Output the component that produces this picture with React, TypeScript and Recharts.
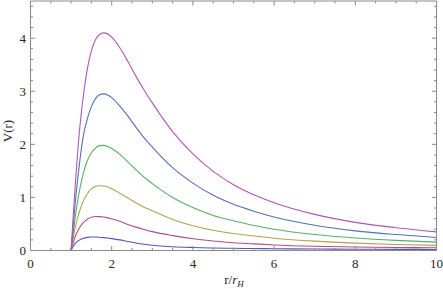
import React from "react";
import { LineChart, Line, XAxis, YAxis } from "recharts";

// r / r_H sample positions
const R = [1, 1.05, 1.1, 1.2, 1.3, 1.4, 1.5, 1.6, 1.7, 1.8, 1.9, 2.0, 2.2, 2.4, 2.6, 2.8, 3.0, 3.5, 4, 4.5, 5, 5.5, 6, 7, 8, 9, 10];

// V(r) curves (bottom to top)
const curve1 = [0, 0.075, 0.13, 0.195, 0.23, 0.248, 0.255, 0.254, 0.25, 0.243, 0.234, 0.224, 0.2, 0.168, 0.14, 0.117, 0.1, 0.072, 0.057, 0.047, 0.041, 0.037, 0.033, 0.028, 0.024, 0.022, 0.02];
const curve2 = [0, 0.14, 0.26, 0.42, 0.525, 0.59, 0.625, 0.64, 0.638, 0.63, 0.615, 0.595, 0.55, 0.49, 0.44, 0.395, 0.355, 0.28, 0.22, 0.18, 0.145, 0.125, 0.105, 0.08, 0.065, 0.057, 0.052];
const curve3 = [0, 0.22, 0.42, 0.72, 0.93, 1.07, 1.16, 1.205, 1.22, 1.215, 1.195, 1.165, 1.08, 0.99, 0.895, 0.815, 0.75, 0.585, 0.465, 0.38, 0.32, 0.272, 0.232, 0.176, 0.138, 0.113, 0.097];
const curve4 = [0, 0.32, 0.62, 1.1, 1.45, 1.69, 1.84, 1.93, 1.975, 1.98, 1.96, 1.92, 1.81, 1.67, 1.52, 1.38, 1.26, 1.0, 0.81, 0.66, 0.56, 0.47, 0.40, 0.30, 0.235, 0.19, 0.158];
const curve5 = [0, 0.45, 0.88, 1.6, 2.15, 2.48, 2.71, 2.86, 2.935, 2.95, 2.93, 2.88, 2.72, 2.53, 2.32, 2.12, 1.95, 1.56, 1.27, 1.04, 0.87, 0.74, 0.63, 0.475, 0.37, 0.30, 0.245];
const curve6 = [0, 0.62, 1.2, 2.2, 2.9, 3.42, 3.76, 3.97, 4.07, 4.1, 4.08, 4.02, 3.82, 3.56, 3.28, 3.02, 2.78, 2.24, 1.82, 1.49, 1.24, 1.05, 0.9, 0.68, 0.53, 0.43, 0.35];

const xTicks = [0, 0.5, 1, 1.5, 2, 2.5, 3, 3.5, 4, 4.5, 5, 5.5, 6, 6.5, 7, 7.5, 8, 8.5, 9, 9.5, 10];
const xMajor = [0, 2, 4, 6, 8, 10];
const yTicks = [0, 0.2, 0.4, 0.6, 0.8, 1, 1.2, 1.4, 1.6, 1.8, 2, 2.2, 2.4, 2.6, 2.8, 3, 3.2, 3.4, 3.6, 3.8, 4, 4.2, 4.4, 4.6];
const yMajor = [0, 1, 2, 3, 4];

const series = [
  { key: "c1", values: curve1, color: "#5555b4" },
  { key: "c2", values: curve2, color: "#b44a88" },
  { key: "c3", values: curve3, color: "#b4a14e" },
  { key: "c4", values: curve4, color: "#55b166" },
  { key: "c5", values: curve5, color: "#5470b8" },
  { key: "c6", values: curve6, color: "#b155b6" },
];

const data = R.map((r, i) => {
  const row: any = { r };
  series.forEach((s) => (row[s.key] = s.values[i]));
  return row;
});

const AX = "#8a8a8a";
const TXT = "#262626";
const FONT = "Liberation Serif, Tinos, DejaVu Serif, serif";
const MAJ = 4.5;
const MIN = 2.5;

const txtStyle: React.CSSProperties = { fontFamily: FONT, fontSize: 13 };

const BottomTick = (p: any) => {
  const v = p.payload.value;
  const major = xMajor.includes(v);
  return (
    <g>
      <line x1={p.x} x2={p.x} y1={p.y} y2={p.y - (major ? MAJ : MIN)} stroke={AX} strokeWidth={1} />
      {major && (
        <text x={p.x} y={p.y + 17.5} textAnchor="middle" style={txtStyle} fill={TXT}>
          {v}
        </text>
      )}
    </g>
  );
};

const TopTick = (p: any) => {
  const v = p.payload.value;
  const major = xMajor.includes(v);
  return <line x1={p.x} x2={p.x} y1={p.y} y2={p.y + (major ? MAJ : MIN)} stroke={AX} strokeWidth={1} />;
};

const LeftTick = (p: any) => {
  const v = p.payload.value;
  const major = yMajor.includes(v);
  return (
    <g>
      <line x1={p.x} x2={p.x + (major ? MAJ : MIN)} y1={p.y} y2={p.y} stroke={AX} strokeWidth={1} />
      {major && (
        <text x={p.x - 4.5} y={p.y + 4.5} textAnchor="end" style={txtStyle} fill={TXT}>
          {v}
        </text>
      )}
    </g>
  );
};

const RightTick = (p: any) => {
  const v = p.payload.value;
  const major = yMajor.includes(v);
  return <line x1={p.x} x2={p.x - (major ? MAJ : MIN)} y1={p.y} y2={p.y} stroke={AX} strokeWidth={1} />;
};

export default function App() {
  return (
    <div style={{ position: "absolute", left: 0, top: 0, width: 443, height: 289, background: "#fff" }}>
      <LineChart width={443} height={289} data={data} margin={{ top: 0, right: 5.5, bottom: 0.5, left: 0.5 }}>
        <XAxis
          xAxisId="b"
          dataKey="r"
          type="number"
          domain={[0, 10]}
          ticks={xTicks}
          interval={0}
          height={38}
          tickSize={0}
          tickMargin={0}
          tickLine={false}
          axisLine={{ stroke: AX }}
          tick={(p: any) => <BottomTick {...p} />}
          allowDataOverflow
        />
        <XAxis
          xAxisId="t"
          orientation="top"
          dataKey="r"
          type="number"
          domain={[0, 10]}
          ticks={xTicks}
          interval={0}
          height={1}
          tickSize={0}
          tickMargin={0}
          tickLine={false}
          axisLine={{ stroke: AX }}
          tick={(p: any) => <TopTick {...p} />}
          allowDataOverflow
        />
        <YAxis
          yAxisId="l"
          type="number"
          domain={[0, 4.7]}
          ticks={yTicks}
          interval={0}
          width={30}
          tickSize={0}
          tickMargin={0}
          tickLine={false}
          axisLine={{ stroke: AX }}
          tick={(p: any) => <LeftTick {...p} />}
          allowDataOverflow
        />
        <YAxis
          yAxisId="r"
          orientation="right"
          type="number"
          domain={[0, 4.7]}
          ticks={yTicks}
          interval={0}
          width={1}
          tickSize={0}
          tickMargin={0}
          tickLine={false}
          axisLine={{ stroke: AX }}
          tick={(p: any) => <RightTick {...p} />}
          allowDataOverflow
        />
        {series.map((s) => (
          <Line
            key={s.key}
            xAxisId="b"
            yAxisId="l"
            dataKey={s.key}
            type="monotone"
            stroke={s.color}
            strokeWidth={1.1}
            dot={false}
            activeDot={false}
            isAnimationActive={false}
          />
        ))}
      </LineChart>
      <svg width={443} height={289} style={{ position: "absolute", left: 0, top: 0, pointerEvents: "none" }}>
        <text x={12} y={131} textAnchor="middle" transform="rotate(-90, 12, 131)" style={txtStyle} fill={TXT}>
          V(r)
        </text>
        <text x={234} y={284} textAnchor="middle" style={txtStyle} fill={TXT}>
          r/<tspan fontStyle="italic">r</tspan>
          <tspan fontStyle="italic" fontSize={9} dy={3}>H</tspan>
        </text>
      </svg>
    </div>
  );
}
